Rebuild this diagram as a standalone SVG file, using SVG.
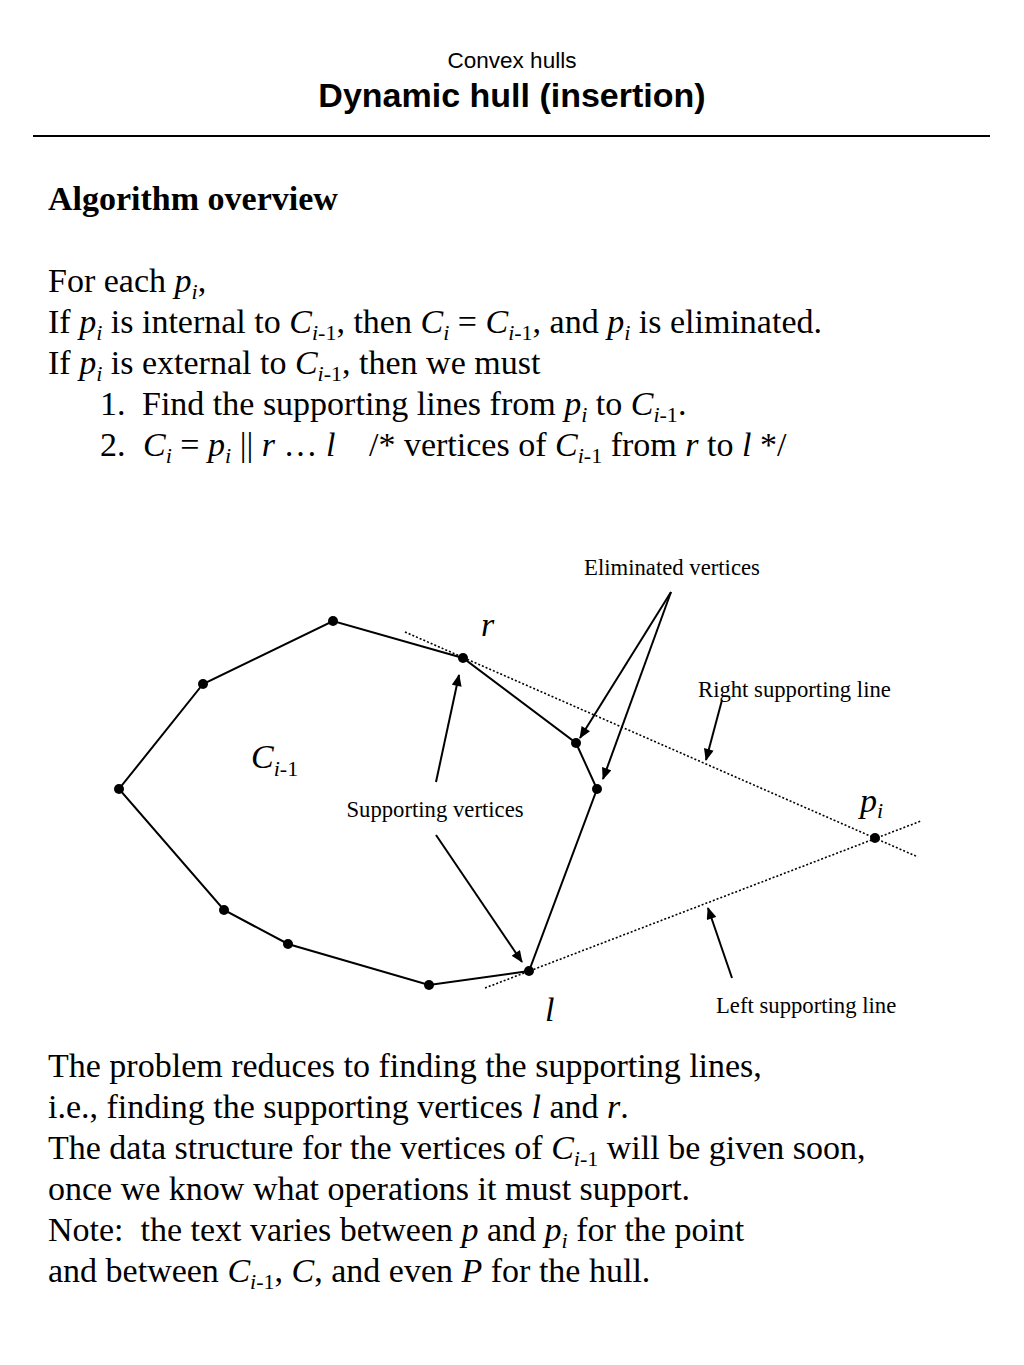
<svg xmlns="http://www.w3.org/2000/svg" width="1024" height="1365" viewBox="0 0 1024 1365">
<defs>
<style>
.t{font-family:"Liberation Serif","Times New Roman",serif;font-size:34px;fill:#000}
.s{font-family:"Liberation Serif","Times New Roman",serif;font-size:22.7px;fill:#000}
.i{font-style:italic}
.sub{font-size:22px}
.edge{stroke:#000;stroke-width:2;fill:none}
.dot{stroke:#000;stroke-width:1.6;stroke-dasharray:2 2;fill:none}
.arr{stroke:#000;stroke-width:2;fill:none;marker-end:url(#ah)}
</style>
<marker id="ah" viewBox="0 0 12 10" refX="11" refY="5" markerWidth="13" markerHeight="10" orient="auto" markerUnits="userSpaceOnUse">
<path d="M0,0 L12,5 L0,10 z" fill="#000"/>
</marker>
</defs>
<rect width="1024" height="1365" fill="#fff"/>
<g id="title">
<text x="512" y="68" text-anchor="middle" font-family="Liberation Sans,Arial,sans-serif" font-size="22.5">Convex hulls</text>
<text x="512" y="107" text-anchor="middle" font-family="Liberation Sans,Arial,sans-serif" font-size="34" font-weight="bold">Dynamic hull (insertion)</text>
<line x1="33" y1="136" x2="990" y2="136" stroke="#000" stroke-width="2"/>
</g>
<g id="overview">
<text class="t" x="48" y="210" font-weight="bold">Algorithm overview</text>
<text class="t" x="48" y="292">For each <tspan class="i">p</tspan><tspan class="i sub" dy="7">i</tspan><tspan dy="-7">,</tspan></text>
<text class="t" x="48" y="333">If <tspan class="i">p</tspan><tspan class="i sub" dy="7">i</tspan><tspan dy="-7"> is internal to </tspan><tspan class="i">C</tspan><tspan class="sub" dy="7"><tspan class="i">i</tspan>-1</tspan><tspan dy="-7">, then </tspan><tspan class="i">C</tspan><tspan class="i sub" dy="7">i</tspan><tspan dy="-7"> = </tspan><tspan class="i">C</tspan><tspan class="sub" dy="7"><tspan class="i">i</tspan>-1</tspan><tspan dy="-7">, and </tspan><tspan class="i">p</tspan><tspan class="i sub" dy="7">i</tspan><tspan dy="-7"> is eliminated.</tspan></text>
<text class="t" x="48" y="374">If <tspan class="i">p</tspan><tspan class="i sub" dy="7">i</tspan><tspan dy="-7"> is external to </tspan><tspan class="i">C</tspan><tspan class="sub" dy="7"><tspan class="i">i</tspan>-1</tspan><tspan dy="-7">, then we must</tspan></text>
<text class="t" x="100" y="415">1.</text>
<text class="t" x="142" y="415">Find the supporting lines from <tspan class="i">p</tspan><tspan class="i sub" dy="7">i</tspan><tspan dy="-7"> to </tspan><tspan class="i">C</tspan><tspan class="sub" dy="7"><tspan class="i">i</tspan>-1</tspan><tspan dy="-7">.</tspan></text>
<text class="t" x="100" y="456">2.</text>
<text class="t" x="143" y="456"><tspan class="i">C</tspan><tspan class="i sub" dy="7">i</tspan><tspan dy="-7"> = </tspan><tspan class="i">p</tspan><tspan class="i sub" dy="7">i</tspan><tspan dy="-7"> || </tspan><tspan class="i">r</tspan><tspan> … </tspan><tspan class="i">l</tspan></text>
<text class="t" x="369" y="456">/* vertices of <tspan class="i">C</tspan><tspan class="sub" dy="7"><tspan class="i">i</tspan>-1</tspan><tspan dy="-7"> from </tspan><tspan class="i">r</tspan><tspan> to </tspan><tspan class="i">l</tspan><tspan> */</tspan></text>
</g>
<g id="connectors">
<polygon class="edge" points="463,658 333,621 203,684 119,789 224,910 288,944 429,985 529,971 597,789 576,743"/>
<line class="dot" x1="405" y1="632" x2="918" y2="857"/>
<line class="dot" x1="485" y1="988" x2="921" y2="821"/>
<line class="arr" x1="671" y1="592" x2="580" y2="738"/>
<line class="arr" x1="671" y1="592" x2="603" y2="779"/>
<line class="arr" x1="436" y1="782" x2="459" y2="675"/>
<line class="arr" x1="436" y1="835" x2="522" y2="962"/>
<line class="arr" x1="722" y1="700" x2="706" y2="760"/>
<line class="arr" x1="732" y1="978" x2="708" y2="908"/>
</g>
<g id="vertices" fill="#000">
<circle cx="333" cy="621" r="5"/>
<circle cx="203" cy="684" r="5"/>
<circle cx="119" cy="789" r="5"/>
<circle cx="224" cy="910" r="5"/>
<circle cx="288" cy="944" r="5"/>
<circle cx="429" cy="985" r="5"/>
<circle cx="529" cy="971" r="5"/>
<circle cx="597" cy="789" r="5"/>
<circle cx="576" cy="743" r="5"/>
<circle cx="463" cy="658" r="5"/>
<circle cx="875" cy="838" r="5"/>
</g>
<g id="labels">
<text class="s" x="672" y="575" text-anchor="middle">Eliminated vertices</text>
<text class="t i" x="481" y="636">r</text>
<text class="s" x="698" y="697">Right supporting line</text>
<text class="t" x="251" y="768"><tspan class="i">C</tspan><tspan class="sub" dy="8"><tspan class="i">i</tspan>-1</tspan></text>
<text class="t" x="860" y="812"><tspan class="i">p</tspan><tspan class="i sub" dy="6">i</tspan></text>
<text class="s" x="435" y="817" text-anchor="middle">Supporting vertices</text>
<text class="t i" x="545" y="1021">l</text>
<text class="s" x="716" y="1013">Left supporting line</text>
</g>
<g id="summary">
<text class="t" x="48" y="1077">The problem reduces to finding the supporting lines,</text>
<text class="t" x="48" y="1118">i.e., finding the supporting vertices <tspan class="i">l</tspan> and <tspan class="i">r</tspan>.</text>
<text class="t" x="48" y="1159">The data structure for the vertices of <tspan class="i">C</tspan><tspan class="sub" dy="7"><tspan class="i">i</tspan>-1</tspan><tspan dy="-7"> will be given soon,</tspan></text>
<text class="t" x="48" y="1200">once we know what operations it must support.</text>
<text class="t" x="48" y="1241">Note:&#160; the text varies between <tspan class="i">p</tspan> and <tspan class="i">p</tspan><tspan class="i sub" dy="7">i</tspan><tspan dy="-7"> for the point</tspan></text>
<text class="t" x="48" y="1282">and between <tspan class="i">C</tspan><tspan class="sub" dy="7"><tspan class="i">i</tspan>-1</tspan><tspan dy="-7">, </tspan><tspan class="i">C</tspan><tspan>, and even </tspan><tspan class="i">P</tspan><tspan> for the hull.</tspan></text>
</g>
</svg>
